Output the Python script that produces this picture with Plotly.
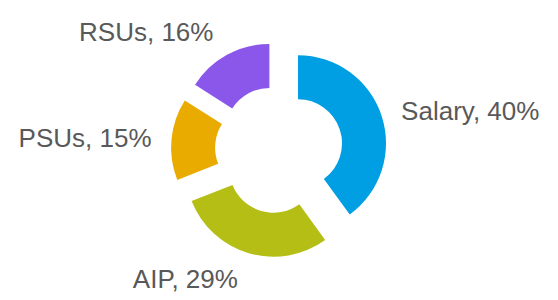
import plotly.graph_objects as go

labels = ["Salary", "AIP", "PSUs", "RSUs"]
values = [40, 29, 15, 16]
colors = ["#009FE3", "#B5BE14", "#EAAB00", "#8B57EA"]
pulls = [0.227, 0.227, 0.227, 0.227]

common = dict(
    labels=labels,
    values=values,
    hole=0.5,
    sort=False,
    direction="clockwise",
    rotation=0,
    pull=pulls,
    showlegend=False,
    automargin=False,
)

# visible donut
donut = go.Pie(
    **common,
    marker=dict(colors=colors, line=dict(width=0)),
    textinfo="none",
    hoverinfo="label+percent",
    domain=dict(x=[0, 1], y=[0.0519, 0.9481]),
)
# transparent, slightly larger copy carrying the outside labels
label_ring = go.Pie(
    **common,
    marker=dict(colors=["rgba(0,0,0,0)"] * len(values), line=dict(width=0)),
    texttemplate="%{label}, %{percent:.0%}",
    textposition="outside",
    textfont=dict(family="Liberation Sans, Arial, sans-serif", size=26, color="#595959"),
    hoverinfo="skip",
    domain=dict(x=[0, 1], y=[0, 1]),
)

fig = go.Figure([label_ring, donut])
fig.update_layout(
    width=558, height=300,
    margin=dict(l=0, r=0, t=29, b=30),
    paper_bgcolor="white",
)
fig.write_html("out.html")
